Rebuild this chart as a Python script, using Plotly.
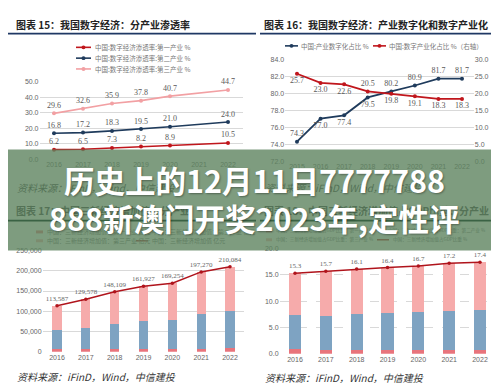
import plotly.graph_objects as go

W, H = 499, 384
def px(x): return x / W
def py(y): return 1 - y / H

# ---------------- data ----------------
years15 = ['2016', '2017', '2018', '2019', '2020', '2021', '2022']
pen_primary = [6.2, 6.5, 7.3, 8.2, 8.9, None, 10.5]
pen_secondary = [16.8, 17.2, 18.3, 19.5, 21.0, None, 24.0]
pen_tertiary = [29.6, 32.6, 35.9, 37.8, 40.7, None, 44.7]

years16 = ['2015', '2016', '2017', '2018', '2019', '2020', '2021', '2022']
ind_digitization = [74.3, 77.0, 77.4, 79.5, 80.2, 80.9, 81.7, 81.7]
digital_industry = [25.7, 23.0, 22.6, 20.5, 19.8, 19.1, 18.3, 18.3]
pos_ind = ['top center', 'bottom center', 'bottom center', 'bottom center',
           'top center', 'top center', 'top center', 'top center']
pos_dig = ['bottom center', 'bottom center', 'bottom center', 'top center',
           'bottom center', 'bottom center', 'bottom center', 'bottom center']

years17 = ['2016', '2017', '2018', '2019', '2020', '2021', '2022']
new_primary = [5500, 6000, 6200, 6500, 7200, 7800, 8000]
new_secondary = [47100, 53000, 61800, 68500, 72100, 86200, 91500]
new_tertiary = [61000, 70600, 80100, 86900, 90000, 103300, 110600]
new_total = [113587, 129578, 148109, 161927, 169254, 197270, 210084]

years18 = ['2016', '2017', '2018', '2019', '2020', '2021', '2022']
gdp_primary = [0.8, 0.7, 0.7, 0.7, 0.7, 0.7, 0.7]
gdp_secondary = [6.5, 6.5, 6.8, 7.1, 7.3, 7.5, 7.7]
gdp_tertiary = [8.0, 8.5, 8.6, 8.6, 8.7, 9.0, 9.0]
gdp_total = [15.3, 15.7, 16.1, 16.4, 16.7, 17.2, 17.4]

# ---------------- styles ----------------
RED = '#c0161c'
NAVY = '#1f3b5c'
PINK = '#f2a0a3'
BAR_RED = '#e8747c'
BAR_BLUE = '#7ea3c2'
BAR_PINK = '#f6abab'
LINE_RED = '#b0141c'
GRID = '#d9d9d9'
TICK = dict(family='Liberation Sans', size=7, color='#666666')
LBL = dict(family='Liberation Serif', size=8, color='#595959')
CJK = 'Noto Sans CJK SC'

fig = go.Figure()

# chart 15
for vals, col, nm in [(pen_primary, RED, '第一产业'), (pen_secondary, NAVY, '第二产业'),
                      (pen_tertiary, PINK, '第三产业')]:
    fig.add_trace(go.Scatter(
        x=years15, y=vals, mode='lines+markers+text', connectgaps=True,
        line=dict(color=col, width=1.6), marker=dict(color=col, size=4),
        text=[('' if v is None else f'{v:.1f}') for v in vals],
        textposition='top center', textfont=LBL, name=nm,
        xaxis='x', yaxis='y', showlegend=False, cliponaxis=False))

# chart 16
fig.add_trace(go.Scatter(
    x=years16, y=ind_digitization, mode='lines+markers+text',
    line=dict(color=NAVY, width=1.8), marker=dict(color=NAVY, size=4),
    text=[f'{v:.1f}' for v in ind_digitization], textposition=pos_ind, textfont=LBL,
    xaxis='x2', yaxis='y2', showlegend=False, cliponaxis=False))
fig.add_trace(go.Scatter(
    x=years16, y=digital_industry, mode='lines+markers+text',
    line=dict(color=RED, width=1.8), marker=dict(color=RED, size=4),
    text=[f'{v:.1f}' for v in digital_industry], textposition=pos_dig, textfont=LBL,
    xaxis='x2', yaxis='y3', showlegend=False, cliponaxis=False))

# chart 17
for vals, col in [(new_primary, BAR_RED), (new_secondary, BAR_BLUE), (new_tertiary, BAR_PINK)]:
    fig.add_trace(go.Bar(x=years17, y=vals, marker=dict(color=col, line=dict(width=0)),
                         width=0.32, xaxis='x4', yaxis='y4', showlegend=False))
fig.add_trace(go.Scatter(
    x=years17, y=new_total, mode='lines+markers+text',
    line=dict(color=LINE_RED, width=1.5), marker=dict(color=LINE_RED, size=3.5),
    text=[f'{v:,}' for v in new_total], textposition='top center',
    textfont=dict(family='Liberation Serif', size=7, color='#666666'),
    xaxis='x4', yaxis='y4', showlegend=False, cliponaxis=False))

# chart 18
for vals, col in [(gdp_primary, BAR_RED), (gdp_secondary, BAR_BLUE), (gdp_tertiary, BAR_PINK)]:
    fig.add_trace(go.Bar(x=years18, y=vals, marker=dict(color=col, line=dict(width=0)),
                         width=0.4, xaxis='x5', yaxis='y5', showlegend=False))
fig.add_trace(go.Scatter(
    x=years18, y=gdp_total, mode='lines+markers+text',
    line=dict(color=LINE_RED, width=1.5), marker=dict(color=LINE_RED, size=3.5),
    text=[f'{v:.1f}' for v in gdp_total], textposition='top center',
    textfont=dict(family='Liberation Serif', size=7, color='#666666'),
    xaxis='x5', yaxis='y5', showlegend=False, cliponaxis=False))

def xax(x0, x1, anchor):
    return dict(domain=[px(x0), px(x1)], anchor=anchor, type='category', range=[-0.5, None],
                showgrid=False, zeroline=False, showline=False, ticks='', tickfont=TICK,
                fixedrange=True)

def yax(y0, y1, anchor, rng, dtick, fmt, **kw):
    d = dict(domain=[py(y0), py(y1)], anchor=anchor, range=rng, dtick=dtick, tickformat=fmt,
             showgrid=True, gridcolor=GRID, gridwidth=1, zeroline=False, showline=False,
             ticks='', tickfont=TICK, fixedrange=True)
    d.update(kw)
    return d

xa1 = xax(31.5, 234.5, 'y'); xa1['range'] = [-0.5, 6.5]
xa2 = xax(277.2, 465.8, 'y2'); xa2['range'] = [-0.5, 7.5]
xa4 = xax(34.6, 236.4, 'y4'); xa4['range'] = [-0.5, 6.5]
xa5 = xax(271.6, 487.4, 'y5'); xa5['range'] = [-0.5, 6.5]

fig.update_layout(
    width=W, height=H, margin=dict(l=0, r=0, t=0, b=0),
    paper_bgcolor='white', plot_bgcolor='white', barmode='stack',
    font=dict(family=CJK, size=7, color='#666666'),
    xaxis=xa1, xaxis2=xa2, xaxis4=xa4, xaxis5=xa5,
    yaxis=yax(150, 71, 'x', [0, 50], 10, '.1f'),
    yaxis2=yax(152, 48, 'x2', [72, 84], 2, '.1f'),
    yaxis3=dict(overlaying='y2', side='right', anchor='x2', range=[0, 30], dtick=5,
                tickformat='.1f', showgrid=False, zeroline=False, showline=False,
                ticks='', tickfont=TICK, fixedrange=True),
    yaxis4=yax(346, 243, 'x4', [0, 250000], 50000, ',d'),
    yaxis5=yax(348, 241, 'x5', [0, 20], 5, '.1f', griddash='dash'),
)

shapes = []
annots = []

def hline(x0, x1, y, color, width=1.5, dash='solid'):
    shapes.append(dict(type='line', xref='paper', yref='paper', x0=px(x0), x1=px(x1),
                       y0=py(y), y1=py(y), line=dict(color=color, width=width, dash=dash),
                       layer='above'))

def dot(x, y, color, r=2):
    shapes.append(dict(type='circle', xref='paper', yref='paper', x0=px(x - r), x1=px(x + r),
                       y0=py(y + r), y1=py(y - r), fillcolor=color, line=dict(width=0),
                       layer='above'))

def box(x0, x1, y0, y1, color):
    shapes.append(dict(type='rect', xref='paper', yref='paper', x0=px(x0), x1=px(x1),
                       y0=py(y1), y1=py(y0), fillcolor=color, line=dict(width=0),
                       layer='above'))

def note(x, y, text, size=7, color='#666666', bold=False, xanchor='left', family=CJK,
         italic=False, shadow=None):
    f = dict(family=family, size=size, color=color)
    if bold:
        f['weight'] = 'bold'
    if italic:
        f['style'] = 'italic'
    if shadow:
        f['shadow'] = shadow
    annots.append(dict(xref='paper', yref='paper', x=px(x), y=py(y), text=text,
                       showarrow=False, xanchor=xanchor, yanchor='middle', font=f))

# title lines (top)
hline(0, 248, 22, '#1f3864', 1.6)
hline(252, 499, 22, '#1f3864', 1.6)

# titles
note(6, 13, '图表 15：我国数字经济：分产业渗透率', 10, '#222222', True)
note(254, 13, '图表 16：我国数字经济：产业数字化和数字产业化', 10, '#222222', True)

# legend chart 15
leg15 = [(36, RED, '中国:数字经济渗透率:第一产业 %'),
         (47, NAVY, '中国:数字经济渗透率:第二产业 %'),
         (58, PINK, '中国:数字经济渗透率:第三产业 %')]
for y, c, t in leg15:
    hline(68, 83, y, c, 1.6)
    dot(75.5, y, c)
    note(85, y, t, 6.5, '#777777')

# legend chart 16
hline(277, 290, 34.5, NAVY, 1.6); dot(283.5, 34.5, NAVY)
note(291, 34.5, '中国:产业数字化占比 %', 6.5, '#777777')
hline(365, 378, 34.5, RED, 1.6); dot(371.5, 34.5, RED)
note(379, 34.5, '中国:数字产业化占比 %（右轴）', 6.5, '#777777')

# ---- elements under the band (faded) ----
BAND_DARK = 'rgb(84,114,86)'
BAND_MID = 'rgb(96,126,98)'
# legend markers chart 17 / 18 (drawn before band so they are covered)
box(28, 35, 222.5, 225.5, BAR_RED)
box(133, 140, 222.5, 225.5, BAR_BLUE)
box(28, 35, 231.5, 234.5, BAR_PINK)
hline(128, 140, 233, LINE_RED, 1.5)
box(258, 264, 221.5, 224.5, BAR_RED)
box(370, 376, 221.5, 224.5, BAR_BLUE)
box(258, 264, 230.5, 233.5, BAR_PINK)
hline(369, 381, 232, LINE_RED, 1.5)

# the overlay band
shapes.append(dict(type='rect', xref='paper', yref='paper', x0=0, x1=1,
                   y0=py(243), y1=py(140), fillcolor='rgba(94,131,95,0.8)',
                   line=dict(width=0), layer='above'))
# title lines (bottom), visible through the band
hline(0, 248, 212.5, 'rgb(58,98,68)', 1.6)
hline(252, 499, 212.5, 'rgb(58,98,68)', 1.6)

# faded texts
note(7, 179, '资料来源：iFinD，Wind，中信建投', 10, BAND_DARK, italic=True)
note(255, 179, '资料来源：iFinD，Wind，中信建投', 10, BAND_DARK, italic=True)
note(6, 202, '图表 17：中国三新经济增加值：分产业', 10, BAND_DARK, True)
note(254, 202, '图表 18：中国三新经济增加值占GDP比重：分产业', 10, BAND_DARK, True)
note(37, 224, '中国：三新经济增加值：第一产业 亿元', 6, BAND_MID)
note(142, 224, '中国：三新经济增加值：第二产业 亿元', 6, BAND_MID)
note(37, 233, '中国：三新经济增加值：第三产业 亿元', 6, BAND_MID)
note(142, 233, '中国：三新经济增加值 亿元', 6, BAND_MID)
note(266, 223, '中国：三新经济增加值占GDP比重：第一产业 %', 4.6, BAND_MID)
note(378, 223, '中国：三新经济增加值占GDP比重：第二产业 %', 4.6, BAND_MID)
note(266, 232, '中国：三新经济增加值占GDP比重：第三产业 %', 4.6, BAND_MID)
note(383, 232, '中国：三新经济增加值占GDP比重 %', 4.6, BAND_MID)

# banner headline
SH = '1px 1px 2px rgba(0,0,0,0.35)'
note(246, 171, '历史上的12月11日7777788', 30.5, 'white', True, 'center', shadow=SH)
note(246, 209.5, '888新澳门开奖2023年,定性评', 30.5, 'white', True, 'center', shadow=SH)

# bottom sources
note(7, 371, '资料来源：iFinD，Wind，中信建投', 10, '#333333', italic=True)
note(255, 372, '资料来源：iFinD，Wind，中信建投', 10, '#333333', italic=True)

fig.update_layout(shapes=shapes, annotations=annots)
fig.write_html('out.html')
